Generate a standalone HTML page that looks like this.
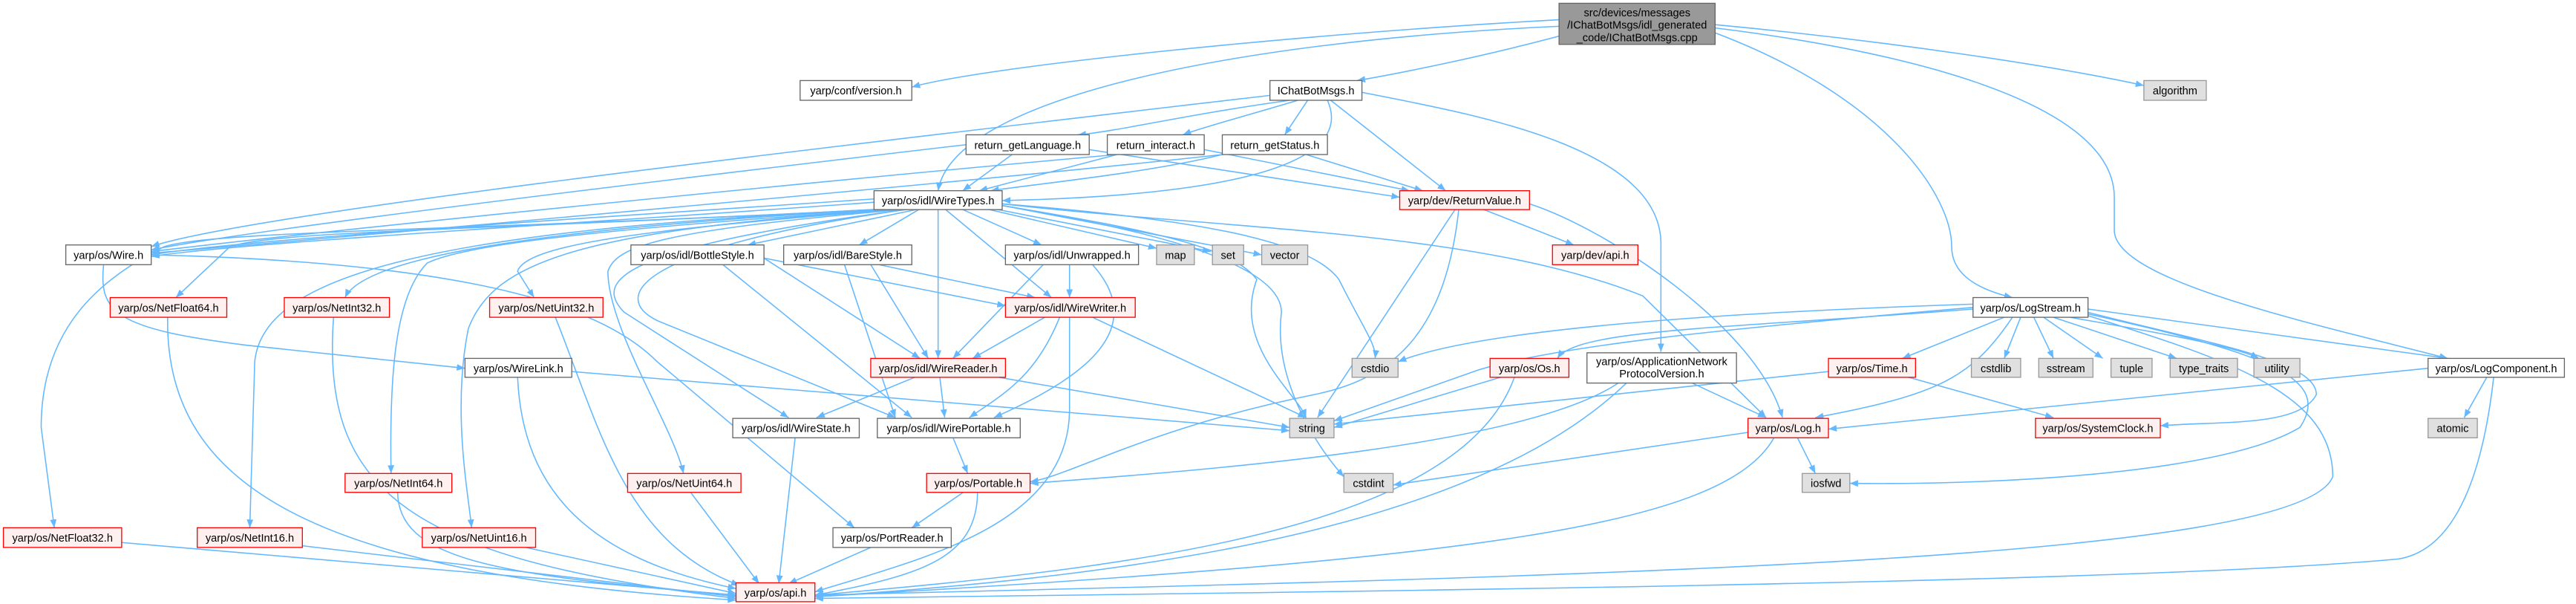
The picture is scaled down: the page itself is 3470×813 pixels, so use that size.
<!DOCTYPE html>
<html><head><meta charset="utf-8"><style>
html,body{margin:0;padding:0;background:#fff;}
svg{display:block;}
text{font-family:"Liberation Sans","DejaVu Sans",sans-serif;font-size:6.6px;fill:#000;text-anchor:middle;}
.n{fill:#fff;stroke:#666;stroke-width:0.6;}
.r{fill:#fff0f0;stroke:#f00;stroke-width:0.6;}
.g{fill:#e0e0e0;stroke:#999;stroke-width:0.6;}
.m{fill:#999;stroke:#666;stroke-width:0.6;}
path{fill:none;stroke:#63b8ff;stroke-width:0.7;marker-end:url(#a);}
</style></head><body>
<svg width="3470" height="813" viewBox="0 0 1568 367.4" xmlns="http://www.w3.org/2000/svg">
<defs><marker id="a" markerUnits="userSpaceOnUse" markerWidth="6" markerHeight="5" refX="5" refY="2" orient="auto"><polygon points="0,0 5,2 0,4" fill="#63b8ff"/></marker></defs>
<g>
<path d="M949 12 C800 20 600 40 555 53"/>
<path d="M949 22 C900 35 850 45 826 49"/>
<path d="M949 16 C750 25 580 60 571 116"/>
<path d="M1044 20 C1150 60 1188 120 1188 150 C1188 165 1200 175 1225 181"/>
<path d="M1044 15 C1150 25 1250 40 1305 52"/>
<path d="M1044 17 C1150 30 1287 60 1287 120 L1287 140 C1287 170 1400 195 1490 218"/>
<path d="M773 58 C500 90 150 130 92 150"/>
<path d="M785 61 C720 70 680 80 656 82"/>
<path d="M790 61 C760 70 730 78 720 82"/>
<path d="M796 61 L782 82"/>
<path d="M808 61 C830 110 700 120 610 122"/>
<path d="M810 61 L880 116"/>
<path d="M828 56 C900 70 1013 90 1011 150 L1011 214"/>
<path d="M588 88 C400 110 150 140 92 152"/>
<path d="M616 94 L586 116"/>
<path d="M663 91 L852 120"/>
<path d="M680 94 C500 110 200 140 92 153"/>
<path d="M680 94 L596 116"/>
<path d="M733 91 L858 116"/>
<path d="M744 94 C600 110 200 145 92 154"/>
<path d="M744 94 C700 105 630 112 603 116"/>
<path d="M795 94 L866 116"/>
<path d="M902 127 L958 149"/>
<path d="M886 127 L802 254"/>
<path d="M931 124 C980 140 1070 200 1085 254"/>
<path d="M888 127 C880 200 850 230 800 240 C700 260 650 290 627 293"/>
<path d="M532 121 C400 130 150 145 92 155"/>
<path d="M532 123 C400 133 150 147 92 156"/>
<path d="M540 127 C300 140 130 140 100 150 C60 170 25 200 25 260 L33 321"/>
<path d="M540 127 C300 140 170 140 140 150 L107 181"/>
<path d="M545 127 C250 140 160 170 155 220 L152 321"/>
<path d="M545 127 C300 140 220 160 210 181"/>
<path d="M548 127 C350 140 280 150 260 160 C240 180 237 230 238 288"/>
<path d="M550 127 C350 140 300 160 285 200 C275 250 285 300 287 321"/>
<path d="M552 127 C380 140 320 150 315 165 L325 181"/>
<path d="M555 127 C400 140 375 150 370 165 C370 200 410 260 416 288"/>
<path d="M560 127 L455 149"/>
<path d="M560 127 L523 149"/>
<path d="M585 127 L634 149"/>
<path d="M600 127 L704 151"/>
<path d="M605 127 L737 153"/>
<path d="M610 125 L768 155"/>
<path d="M571 127 L571 218"/>
<path d="M575 127 L640 181"/>
<path d="M555 127 C380 150 360 170 380 190 L480 254"/>
<path d="M555 127 C390 150 370 180 400 195 L545 254"/>
<path d="M610 125 C700 140 750 150 765 170 C750 210 790 240 795 254"/>
<path d="M610 124 C750 135 800 150 815 170 C830 200 838 210 837 218"/>
<path d="M610 125 C700 140 780 160 780 190 C775 230 800 270 818 290"/>
<path d="M610 124 C750 140 900 140 1000 180 L1075 254"/>
<path d="M63 161 C60 190 70 200 150 210 L283 224"/>
<path d="M92 155 C300 160 370 190 400 220 L520 321"/>
<path d="M315 229 C318 300 360 340 448 358"/>
<path d="M348 226 L785 262"/>
<path d="M465 157 L560 218"/>
<path d="M465 157 L612 186"/>
<path d="M440 161 L555 254"/>
<path d="M530 161 L565 218"/>
<path d="M535 161 L630 181"/>
<path d="M514 161 L545 254"/>
<path d="M635 161 L580 218"/>
<path d="M651 161 L651 181"/>
<path d="M665 161 C700 200 660 230 605 254"/>
<path d="M636 193 L592 218"/>
<path d="M645 193 C630 230 610 240 590 254"/>
<path d="M665 193 L795 254"/>
<path d="M651 193 L651 250 C650 320 560 340 496 360"/>
<path d="M558 229 L497 254"/>
<path d="M572 229 L575 254"/>
<path d="M605 229 L785 260"/>
<path d="M580 266 L589 288"/>
<path d="M587 299 L555 321"/>
<path d="M595 299 C595 340 560 350 496 362"/>
<path d="M530 333 L480 355"/>
<path d="M484 266 L474 355"/>
<path d="M74 330 L448 362"/>
<path d="M102 193 C100 300 200 350 448 365"/>
<path d="M184 332 L448 363"/>
<path d="M203 193 C195 300 250 340 448 364"/>
<path d="M242 299 C242 340 300 350 448 362"/>
<path d="M320 333 L448 361"/>
<path d="M338 193 C365 260 380 330 450 356"/>
<path d="M420 299 L462 355"/>
<path d="M1201 185 C1050 190 900 200 851 220"/>
<path d="M1201 187 C1050 200 950 210 900 225 L812 256"/>
<path d="M1201 188 C1050 200 960 200 948 218"/>
<path d="M1220 193 L1158 218"/>
<path d="M1225 193 C1200 230 1180 240 1105 254"/>
<path d="M1230 193 L1220 218"/>
<path d="M1238 193 L1250 218"/>
<path d="M1244 193 L1280 218"/>
<path d="M1250 193 L1325 218"/>
<path d="M1260 193 C1300 200 1360 210 1375 218"/>
<path d="M1271 188 L1490 218"/>
<path d="M1271 190 C1350 210 1410 220 1410 240 C1400 260 1350 256 1315 259"/>
<path d="M1271 191 C1380 215 1420 230 1400 260 C1350 290 1200 295 1126 294"/>
<path d="M1271 192 C1360 220 1420 240 1420 290 C1400 340 1000 350 496 362"/>
<path d="M1064 263 L848 295"/>
<path d="M1094 266 L1105 288"/>
<path d="M1080 266 C1050 320 900 340 496 363"/>
<path d="M1113 226 L812 258"/>
<path d="M1160 229 L1250 254"/>
<path d="M915 229 L812 260"/>
<path d="M922 229 C890 320 700 345 496 362"/>
<path d="M1030 233 L1075 254"/>
<path d="M985 233 C930 270 750 285 627 294"/>
<path d="M990 233 C900 320 700 350 496 363"/>
<path d="M1478 224 L1113 261"/>
<path d="M1514 229 L1500 254"/>
<path d="M1518 229 C1510 300 1490 335 1460 340 C1300 355 800 360 496 364"/>
</g>
<g>
<rect class="m" x="949" y="2" width="95" height="25"/>
<text x="996.5" y="10">src/devices/messages</text>
<text x="996.5" y="17.5">/IChatBotMsgs/idl_generated</text>
<text x="996.5" y="25">_code/IChatBotMsgs.cpp</text>
<rect class="n" x="487" y="49" width="68" height="12"/><text x="521" y="57.5">yarp/conf/version.h</text>
<rect class="n" x="773" y="49" width="56" height="12"/><text x="801" y="57.5">IChatBotMsgs.h</text>
<rect class="g" x="1305" y="49" width="38" height="12"/><text x="1324" y="57.5">algorithm</text>
<rect class="n" x="588" y="82" width="75" height="12"/><text x="625.5" y="90.5">return_getLanguage.h</text>
<rect class="n" x="674" y="82" width="59" height="12"/><text x="703.5" y="90.5">return_interact.h</text>
<rect class="n" x="744" y="82" width="64" height="12"/><text x="776" y="90.5">return_getStatus.h</text>
<rect class="n" x="532" y="116" width="78" height="11.5"/><text x="571" y="124.3">yarp/os/idl/WireTypes.h</text>
<rect class="r" x="852" y="116" width="79" height="11.5"/><text x="891.5" y="124.3">yarp/dev/ReturnValue.h</text>
<rect class="n" x="40" y="149" width="52" height="12"/><text x="66" y="157.5">yarp/os/Wire.h</text>
<rect class="n" x="384" y="149" width="81" height="12"/><text x="424.5" y="157.5">yarp/os/idl/BottleStyle.h</text>
<rect class="n" x="477" y="149" width="78" height="12"/><text x="516" y="157.5">yarp/os/idl/BareStyle.h</text>
<rect class="n" x="612" y="149" width="81" height="12"/><text x="652.5" y="157.5">yarp/os/idl/Unwrapped.h</text>
<rect class="g" x="704" y="149" width="23" height="12"/><text x="715.5" y="157.5">map</text>
<rect class="g" x="738" y="149" width="19" height="12"/><text x="747.5" y="157.5">set</text>
<rect class="g" x="768" y="149" width="28" height="12"/><text x="782" y="157.5">vector</text>
<rect class="r" x="945" y="149" width="52" height="12"/><text x="971" y="157.5">yarp/dev/api.h</text>
<rect class="n" x="1201" y="181" width="70" height="12"/><text x="1236" y="189.5">yarp/os/LogStream.h</text>
<rect class="r" x="67" y="181" width="71" height="12"/><text x="102.5" y="189.5">yarp/os/NetFloat64.h</text>
<rect class="r" x="173" y="181" width="64" height="12"/><text x="205" y="189.5">yarp/os/NetInt32.h</text>
<rect class="r" x="298" y="181" width="69" height="12"/><text x="332.5" y="189.5">yarp/os/NetUint32.h</text>
<rect class="r" x="612" y="181" width="79" height="12"/><text x="651.5" y="189.5">yarp/os/idl/WireWriter.h</text>
<rect class="n" x="283" y="218" width="65" height="11.5"/><text x="315.5" y="226.3">yarp/os/WireLink.h</text>
<rect class="r" x="530" y="218" width="82" height="11.5"/><text x="571" y="226.3">yarp/os/idl/WireReader.h</text>
<rect class="g" x="823" y="218" width="28" height="11.5"/><text x="837" y="226.3">cstdio</text>
<rect class="r" x="907" y="218" width="48" height="11.5"/><text x="931" y="226.3">yarp/os/Os.h</text>
<rect class="n" x="966" y="214.6" width="91" height="18.4"/><text x="1011.5" y="222">yarp/os/ApplicationNetwork</text><text x="1011.5" y="229.5">ProtocolVersion.h</text>
<rect class="r" x="1113" y="218" width="53" height="11.5"/><text x="1139.5" y="226.3">yarp/os/Time.h</text>
<rect class="g" x="1200" y="218" width="30" height="11.5"/><text x="1215" y="226.3">cstdlib</text>
<rect class="g" x="1241" y="218" width="33" height="11.5"/><text x="1257.5" y="226.3">sstream</text>
<rect class="g" x="1285" y="218" width="25" height="11.5"/><text x="1297.5" y="226.3">tuple</text>
<rect class="g" x="1321" y="218" width="41" height="11.5"/><text x="1341.5" y="226.3">type_traits</text>
<rect class="g" x="1372" y="218" width="28" height="11.5"/><text x="1386" y="226.3">utility</text>
<rect class="n" x="1478" y="218" width="83" height="11.5"/><text x="1519.5" y="226.3">yarp/os/LogComponent.h</text>
<rect class="n" x="446" y="254.5" width="77" height="11.8"/><text x="484.5" y="262.8">yarp/os/idl/WireState.h</text>
<rect class="n" x="534" y="254.5" width="87" height="11.8"/><text x="577.5" y="262.8">yarp/os/idl/WirePortable.h</text>
<rect class="g" x="785" y="254.5" width="27" height="11.8"/><text x="798.5" y="262.8">string</text>
<rect class="r" x="1064" y="254.5" width="49" height="11.8"/><text x="1088.5" y="262.8">yarp/os/Log.h</text>
<rect class="r" x="1239" y="254.5" width="76" height="11.8"/><text x="1277" y="262.8">yarp/os/SystemClock.h</text>
<rect class="g" x="1478" y="254.5" width="30" height="11.8"/><text x="1493" y="262.8">atomic</text>
<rect class="r" x="210" y="288" width="65" height="11.5"/><text x="242.5" y="296.3">yarp/os/NetInt64.h</text>
<rect class="r" x="382" y="288" width="69" height="11.5"/><text x="416.5" y="296.3">yarp/os/NetUint64.h</text>
<rect class="r" x="564" y="288" width="63" height="11.5"/><text x="595.5" y="296.3">yarp/os/Portable.h</text>
<rect class="g" x="818" y="288" width="30" height="11.5"/><text x="833" y="296.3">cstdint</text>
<rect class="g" x="1097" y="288" width="29" height="11.5"/><text x="1111.5" y="296.3">iosfwd</text>
<rect class="r" x="2" y="321" width="72" height="12"/><text x="38" y="329.5">yarp/os/NetFloat32.h</text>
<rect class="r" x="120" y="321" width="64" height="12"/><text x="152" y="329.5">yarp/os/NetInt16.h</text>
<rect class="r" x="257" y="321" width="69" height="12"/><text x="291.5" y="329.5">yarp/os/NetUint16.h</text>
<rect class="n" x="507" y="321" width="72" height="12"/><text x="543" y="329.5">yarp/os/PortReader.h</text>
<rect class="r" x="448" y="354.5" width="48" height="11.5"/><text x="472" y="362.8">yarp/os/api.h</text>
</g>
</svg>
</body></html>
